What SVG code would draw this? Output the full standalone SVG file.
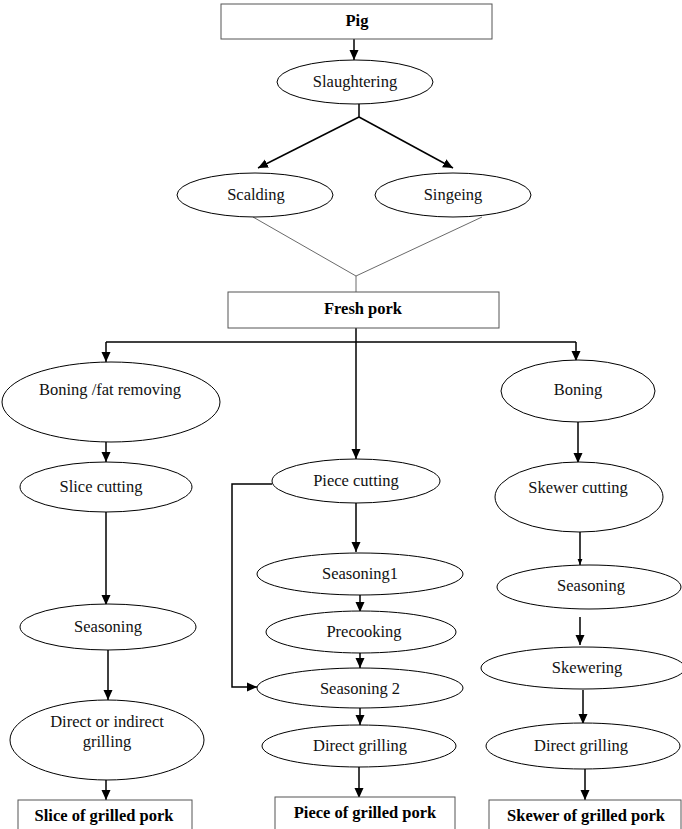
<svg xmlns="http://www.w3.org/2000/svg" width="682" height="829" viewBox="0 0 682 829">
<defs>
<marker id="ah" markerUnits="userSpaceOnUse" markerWidth="10" markerHeight="10" viewBox="0 0 10 10" refX="10" refY="5" orient="auto">
<path d="M0,0.5 L10,5 L0,9.5 Z" fill="#000"/>
</marker>
<marker id="ahs" markerUnits="userSpaceOnUse" markerWidth="6" markerHeight="6" viewBox="0 0 10 10" refX="10" refY="5" orient="auto">
<path d="M0,1 L10,5 L0,9 Z" fill="#000"/>
</marker>
<style>
.n{fill:#fff;stroke:#000;stroke-width:1}
.b{fill:#fff;stroke:#555;stroke-width:1}
.t{font-family:"Liberation Serif","Times New Roman",serif;font-size:16.5px;text-anchor:middle;fill:#111}
.tb{font-family:"Liberation Serif","Times New Roman",serif;font-size:16.5px;font-weight:bold;text-anchor:middle;fill:#000}
.c{fill:none;stroke:#000;stroke-width:1.5}
.ca{fill:none;stroke:#000;stroke-width:1.5;marker-end:url(#ah)}
.thin{fill:none;stroke:#444;stroke-width:0.8}
</style>
</defs>
<rect width="682" height="829" fill="#fff"/>
<g id="connectors">
<line class="ca" x1="354" y1="39" x2="354" y2="60"/>
<line class="c" x1="359" y1="104" x2="359" y2="117"/>
<line class="ca" x1="359" y1="117" x2="258" y2="168"/>
<line class="ca" x1="359" y1="117" x2="453" y2="168"/>
<polyline class="thin" points="253,217 356,276 482,217"/>
<line class="thin" x1="356" y1="276" x2="356" y2="292"/>
<line class="c" x1="356" y1="328" x2="356" y2="342"/>
<line class="c" x1="106" y1="342" x2="576" y2="342"/>
<line class="ca" x1="106" y1="342" x2="106" y2="362"/>
<line class="ca" x1="356" y1="342" x2="356" y2="459"/>
<line class="ca" x1="576" y1="342" x2="576" y2="361"/>
<line class="ca" x1="106" y1="442" x2="106" y2="462"/>
<line class="ca" x1="106" y1="512" x2="106" y2="605"/>
<line class="ca" x1="108" y1="650" x2="108" y2="700"/>
<line class="ca" x1="106" y1="780" x2="106" y2="800"/>
<line class="ca" x1="356" y1="503" x2="356" y2="552"/>
<polyline class="c" points="272,484 232,484 232,687 245,687"/>
<line class="ca" x1="245" y1="687" x2="257" y2="687"/>
<line class="ca" x1="360" y1="595" x2="360" y2="612"/>
<line class="ca" x1="360" y1="653" x2="360" y2="668"/>
<line class="ca" x1="360" y1="708" x2="360" y2="725"/>
<line class="ca" x1="359" y1="767" x2="359" y2="798"/>
<line class="ca" x1="578" y1="422" x2="578" y2="463"/>
<line class="c" x1="580" y1="532" x2="580" y2="561"/>
<line class="ca" x1="580" y1="559" x2="580" y2="565" style="marker-end:url(#ahs)"/>
<line class="ca" x1="580" y1="617" x2="580" y2="645"/>
<line class="ca" x1="583" y1="690" x2="583" y2="724"/>
<line class="ca" x1="585" y1="769" x2="585" y2="800"/>
</g>
<g id="pig"><rect class="b" x="221" y="4" width="271" height="35"/><text class="tb" x="357" y="26">Pig</text></g>
<g id="slaughtering"><ellipse class="n" cx="355" cy="82" rx="78" ry="22"/><text class="t" x="355" y="87">Slaughtering</text></g>
<g id="scalding"><ellipse class="n" cx="255" cy="195" rx="78" ry="22"/><text class="t" x="256" y="200">Scalding</text></g>
<g id="singeing"><ellipse class="n" cx="453" cy="195" rx="78" ry="22"/><text class="t" x="453" y="200">Singeing</text></g>
<g id="fresh-pork"><rect class="b" x="228" y="292" width="271" height="36"/><text class="tb" x="363" y="314">Fresh pork</text></g>
<g id="boning-fat"><ellipse class="n" cx="111" cy="402" rx="109" ry="40"/><text class="t" x="110" y="395">Boning /fat removing</text></g>
<g id="boning"><ellipse class="n" cx="578" cy="391" rx="77" ry="31"/><text class="t" x="578" y="395">Boning</text></g>
<g id="slice-cutting"><ellipse class="n" cx="106" cy="487" rx="86" ry="25"/><text class="t" x="101" y="492">Slice cutting</text></g>
<g id="seasoning-left"><ellipse class="n" cx="108" cy="627" rx="88" ry="23"/><text class="t" x="108" y="632">Seasoning</text></g>
<g id="direct-indirect"><ellipse class="n" cx="107" cy="740" rx="97" ry="40"/><text class="t" x="107" y="727">Direct or indirect</text><text class="t" x="107" y="747">grilling</text></g>
<g id="slice-grilled"><rect class="b" x="18" y="800" width="174" height="34"/><text class="tb" x="104" y="821">Slice of grilled pork</text></g>
<g id="piece-cutting"><ellipse class="n" cx="356" cy="481" rx="84" ry="22"/><text class="t" x="356" y="486">Piece cutting</text></g>
<g id="seasoning1"><ellipse class="n" cx="360" cy="574" rx="103" ry="21"/><text class="t" x="360" y="579">Seasoning1</text></g>
<g id="precooking"><ellipse class="n" cx="361" cy="632" rx="95" ry="21"/><text class="t" x="364" y="637">Precooking</text></g>
<g id="seasoning2"><ellipse class="n" cx="360" cy="688" rx="103" ry="20"/><text class="t" x="360" y="694">Seasoning 2</text></g>
<g id="direct-grilling-center"><ellipse class="n" cx="359" cy="746" rx="97" ry="21"/><text class="t" x="360" y="751">Direct grilling</text></g>
<g id="piece-grilled"><rect class="b" x="275" y="797" width="180" height="36"/><text class="tb" x="365" y="818">Piece of grilled pork</text></g>
<g id="skewer-cutting"><ellipse class="n" cx="579" cy="497" rx="84" ry="35"/><text class="t" x="578" y="493">Skewer cutting</text></g>
<g id="seasoning-right"><ellipse class="n" cx="589" cy="587" rx="92" ry="22"/><text class="t" x="591" y="591">Seasoning</text></g>
<g id="skewering"><ellipse class="n" cx="583" cy="668" rx="102" ry="21"/><text class="t" x="587" y="673">Skewering</text></g>
<g id="direct-grilling-right"><ellipse class="n" cx="583" cy="746" rx="97" ry="23"/><text class="t" x="581" y="751">Direct grilling</text></g>
<g id="skewer-grilled"><rect class="b" x="489" y="800" width="192" height="34"/><text class="tb" x="586" y="821">Skewer of grilled pork</text></g>
</svg>
